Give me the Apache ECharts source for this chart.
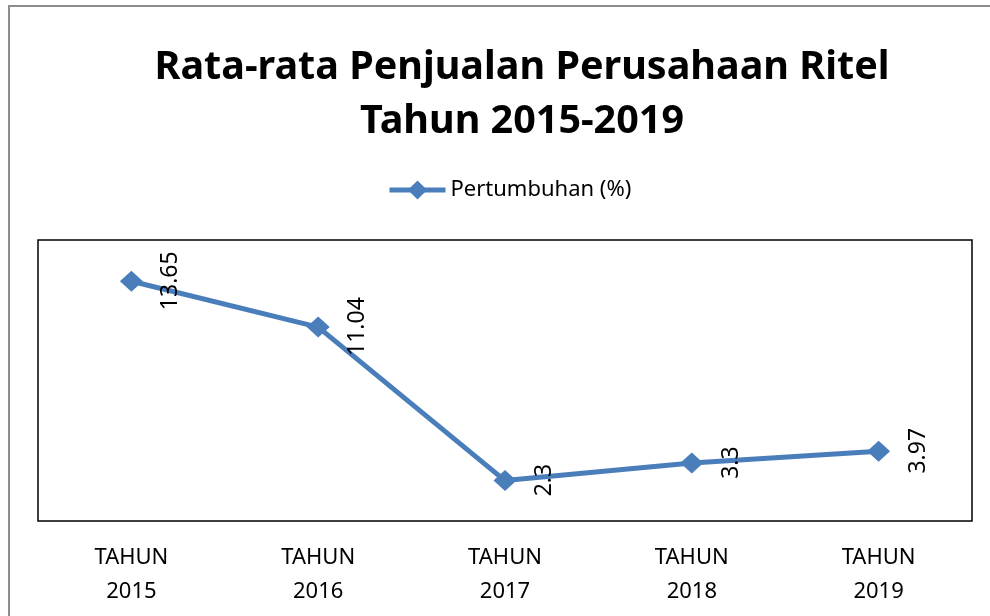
<!DOCTYPE html>
<html>
<head>
<meta charset="utf-8">
<script src="https://cdn.jsdelivr.net/npm/echarts@6/dist/echarts.min.js"></script>
<style>
  html, body { margin: 0; padding: 0; background: #fff; }
  #chart { width: 990px; height: 616px; }
</style>
</head>
<body>
<div id="chart"></div>
<script>
// data
const categories = ['TAHUN\n2015', 'TAHUN\n2016', 'TAHUN\n2017', 'TAHUN\n2018', 'TAHUN\n2019']
const growth = [13.65, 11.04, 2.3, 3.3, 3.97]
const seriesName = 'Pertumbuhan (%)'

const chart = echarts.init(document.getElementById('chart'))
const font = '"Noto Sans", "Open Sans", sans-serif'

chart.setOption({
  animation: false,
  textStyle: { fontFamily: font },
  title: {
    text: 'Rata-rata Penjualan Perusahaan Ritel\nTahun 2015-2019',
    left: 517,
    textAlign: 'center',
    top: 36,
    textStyle: {
      fontFamily: font,
      fontWeight: 'bold',
      fontSize: 39.5,
      lineHeight: 54,
      color: '#000'
    }
  },
  legend: {
    data: [seriesName],
    top: 174,
    left: 382,
    itemWidth: 56,
    itemHeight: 24,
    itemGap: 6,
    lineStyle: { width: 5 },
    textStyle: { fontSize: 22, color: '#000', fontFamily: font }
  },
  graphic: [{
    type: 'rect',
    shape: { x: 9, y: 6, width: 1200, height: 800 },
    style: { fill: 'none', stroke: '#8c8c8c', lineWidth: 2 },
    silent: true
  }],
  grid: {
    left: 38,
    right: 18,
    top: 240,
    bottom: 95,
    show: true,
    borderColor: '#000',
    borderWidth: 1.5
  },
  xAxis: {
    type: 'category',
    data: categories,
    boundaryGap: true,
    axisLine: { show: false },
    axisTick: { show: false },
    axisLabel: {
      margin: 20,
      fontSize: 22,
      lineHeight: 34,
      color: '#000',
      fontFamily: font
    }
  },
  yAxis: {
    type: 'value',
    min: 0,
    max: 16,
    show: false,
    splitLine: { show: false }
  },
  series: [{
    name: seriesName,
    type: 'line',
    data: growth,
    symbol: 'diamond',
    symbolSize: [23, 21],
    itemStyle: { color: '#4a7ebb' },
    lineStyle: { color: '#4a7ebb', width: 5 },
    label: {
      show: true,
      position: [51, 10],
      rotate: 90,
      align: 'center',
      verticalAlign: 'middle',
      fontSize: 23,
      color: '#000',
      fontFamily: font
    }
  }]
})
</script>
</body>
</html>
